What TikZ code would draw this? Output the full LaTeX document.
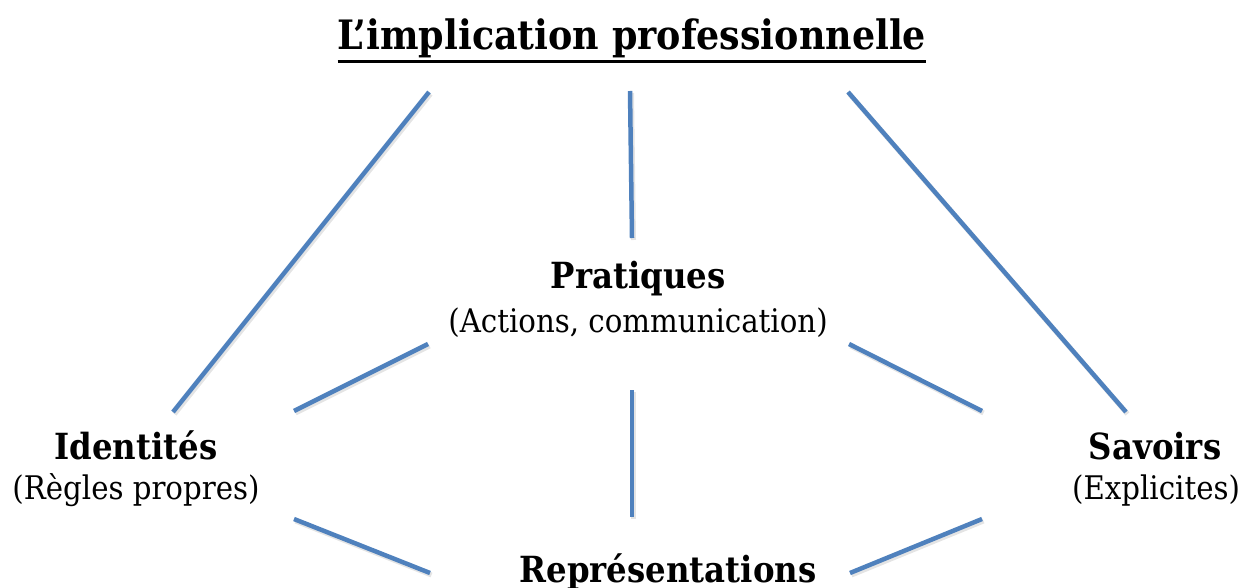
\documentclass[tikz,border=0pt]{standalone}
\usepackage{fontspec}
\setmainfont{DejaVu Serif Condensed}
\usepackage{tikz}
\definecolor{linkblue}{RGB}{79,129,189}

\begin{document}
\begin{tikzpicture}[x=1pt, y=-1pt,
    link/.style={draw=linkblue, line width=4.5pt,
      preaction={draw=black!30, opacity=0.35, line width=5pt,
        transform canvas={shift={(1.5pt,-2pt)}}}},
    heading/.style={font=\fontsize{36}{42}\selectfont\bfseries, anchor=base, inner sep=0pt},
    subline/.style={font=\fontsize{32.5}{38}\selectfont, anchor=base, inner sep=0pt}]
  \useasboundingbox (0,0) rectangle (1244,588);

  % titre
  \node[anchor=base, inner sep=0pt, font=\fontsize{40.5}{48}\selectfont\bfseries]
    (titre) at (632,50) {L’implication professionnelle};
  \draw[line width=3pt] ([yshift=-11.5pt]titre.base west) -- ([yshift=-11.5pt]titre.base east);

  % les quatre poles
  \node[heading] (pratiques) at (638,288) {Pratiques};
  \node[subline] (actions) at (638,332) {(Actions, communication)};
  \node[heading] (identites) at (136,459) {Identités};
  \node[subline] (regles) at (136,499) {(Règles propres)};
  \node[heading] (savoirs) at (1155,459) {Savoirs};
  \node[subline] (explicites) at (1156,499) {(Explicites)};
  \node[heading] (represent) at (668,582) {Représentations};

  % extremites des traits
  \coordinate (hautG) at (429,92);
  \coordinate (hautM) at (630,91);
  \coordinate (hautD) at (848,92);
  \coordinate (idH) at (173,412);
  \coordinate (savH) at (1126,412);
  \coordinate (praG) at (428,344);
  \coordinate (praD) at (849,344);
  \coordinate (praM) at (632,238);
  \coordinate (idD) at (294,411);
  \coordinate (savG) at (982,411);
  \coordinate (repH) at (632,390);
  \coordinate (repB) at (632,517);
  \coordinate (idB) at (294,519);
  \coordinate (savB) at (982,519);
  \coordinate (repG) at (430,573);
  \coordinate (repD) at (850,573);

  \draw[link] (hautG) -- (idH);
  \draw[link] (hautM) -- (praM);
  \draw[link] (hautD) -- (savH);
  \draw[link] (praG) -- (idD);
  \draw[link] (praD) -- (savG);
  \draw[link] (repH) -- (repB);
  \draw[link] (idB) -- (repG);
  \draw[link] (savB) -- (repD);
\end{tikzpicture}
\end{document}
